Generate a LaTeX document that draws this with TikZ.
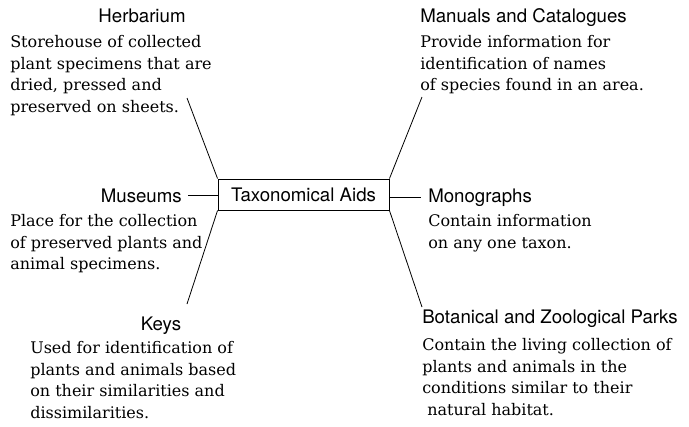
\documentclass[tikz,border=0pt]{standalone}
\usepackage{fontspec}
\setmainfont{DejaVu Serif}
\setsansfont{TeX Gyre Heros}
\usetikzlibrary{positioning}

\begin{document}
\begin{tikzpicture}[x=0.75pt,y=-0.75pt,
		head/.style={font=\sffamily\fontsize{14}{16}\selectfont, inner sep=0pt},
		info/.style={font=\rmfamily\fontsize{12}{16.3}\selectfont, align=left, inner sep=0pt, anchor=north west},
		link/.style={line width=0.6pt}]
	\useasboundingbox (0,0) rectangle (689,426);
	% centre box
	\node[draw, line width=0.7pt, minimum width=128.25pt, minimum height=23.25pt, inner sep=0pt,
		font=\sffamily\fontsize{14}{16}\selectfont] (aids) at (303.5,194.5) {Taxonomical Aids};
	% left side
	\node[head, anchor=base] (herb) at (142,22) {Herbarium};
	\node[info] (herbtxt) at (10,35) {Storehouse of collected\\plant specimens that are\\dried, pressed and\\preserved on sheets.};
	\node[head, anchor=base east] (mus) at (182,202) {Museums};
	\node[info] (mustxt) at (10,214) {Place for the collection\\of preserved plants and\\animal specimens.};
	\node[head, anchor=base] (keys) at (161,330) {Keys};
	\node[info] (keystxt) at (30,341) {Used for identification of\\plants and animals based\\on their similarities and\\dissimilarities.};
	% right side
	\node[head, anchor=base west] (man) at (420,22) {Manuals and Catalogues};
	\node[info] (mantxt) at (420,35) {Provide information for\\identification of names\\of species found in an area.};
	\node[head, anchor=base west] (mono) at (428,202) {Monographs};
	\node[info] (monotxt) at (428,214) {Contain information\\on any one taxon.};
	\node[head, anchor=base west] (bot) at (422,323) {Botanical and Zoological Parks};
	\node[info] (bottxt) at (422,338) {Contain the living collection of\\plants and animals in the\\conditions similar to their\\\ natural habitat.};
	% connectors
	\coordinate (herbend) at (187,98);
	\coordinate (manend) at (422,97);
	\coordinate (keysend) at (187,304);
	\coordinate (botend) at (422,307);
	\draw[link] (aids.north west) -- (herbend);
	\draw[link] (aids.north east) -- (manend);
	\draw[link] (aids.south west) -- (keysend);
	\draw[link] (aids.south east) -- (botend);
	\draw[link, shorten <=4.5pt] (mus.east) -- (mus.east -| aids.west);
	\draw[link, shorten >=5pt] (mono.west -| aids.east) -- (mono.west);
\end{tikzpicture}
\end{document}
